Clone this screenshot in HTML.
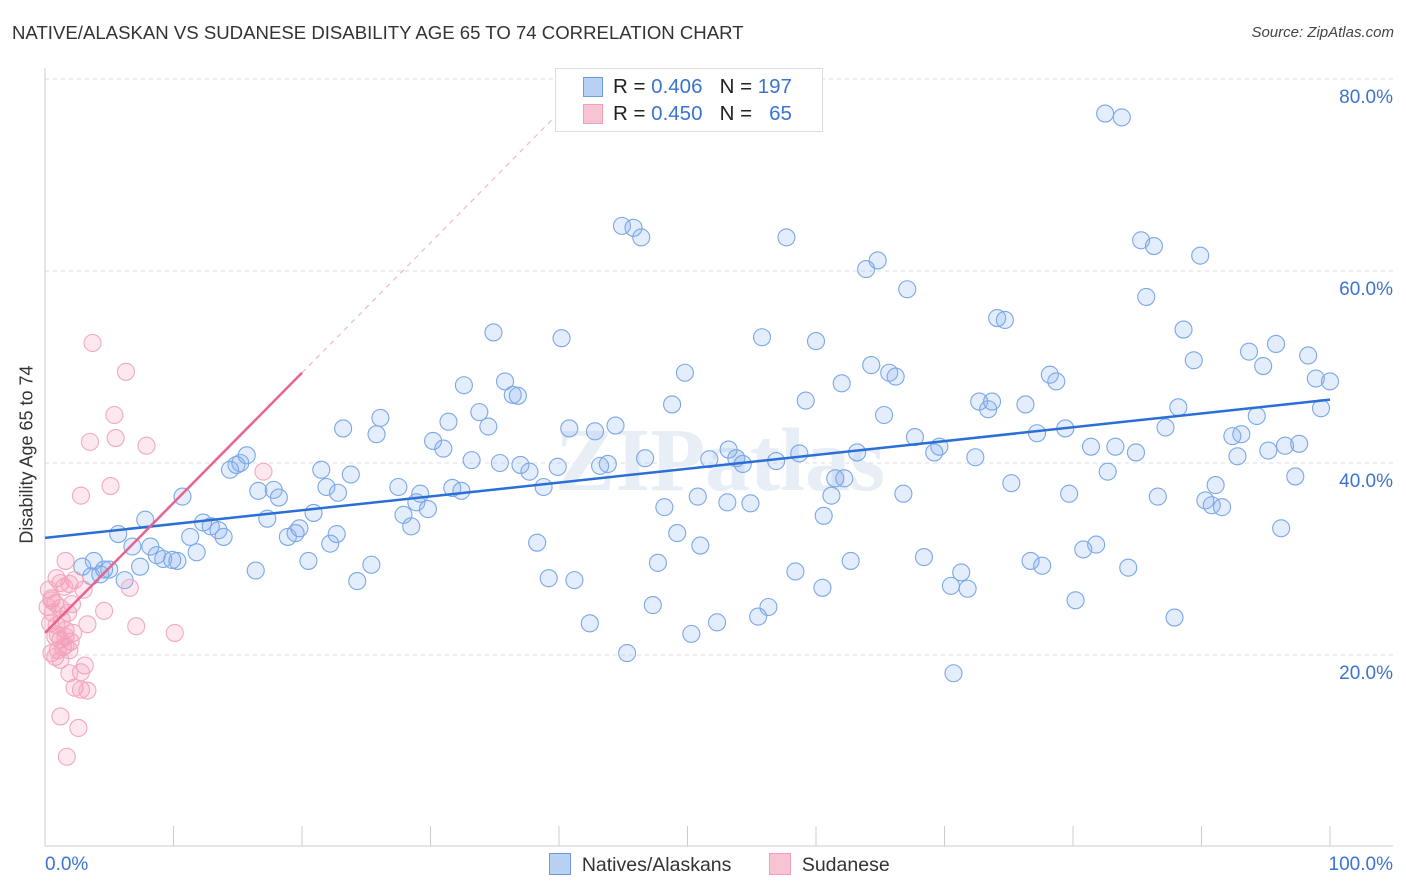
<!DOCTYPE html>
<html><head><meta charset="utf-8"><style>
body{margin:0;background:#fff;font-family:"Liberation Sans",sans-serif;}
#c{position:relative;width:1406px;height:892px;overflow:hidden}
.t{position:absolute;white-space:nowrap}
</style></head><body><div id="c">
<div class="t" style="left:12px;top:22px;font-size:18.6px;color:#333">NATIVE/ALASKAN VS SUDANESE DISABILITY AGE 65 TO 74 CORRELATION CHART</div>
<div class="t" style="right:12px;top:24px;font-size:15px;color:#444;font-style:italic">Source: ZipAtlas.com</div>
<div class="t" style="left:-73px;top:444px;width:200px;text-align:center;font-size:18px;color:#333;transform:rotate(-90deg)">Disability Age 65 to 74</div>
<svg id="s" width="1406" height="892" style="position:absolute;left:0;top:0"></svg>
<div style="position:absolute;left:555px;top:68px;width:266px;height:62px;border:1px solid #ddd;background:#fff;font-size:20.5px;color:#222">
<div style="position:absolute;left:27px;top:8px;width:18px;height:18px;background:#b8d0f4;border:1px solid #6a9ee0"></div>
<div class="t" style="left:57px;top:6px">R = <span style="color:#3b73d1">0.406</span>&nbsp;&nbsp;&nbsp;N = <span style="color:#3b73d1">197</span></div>
<div style="position:absolute;left:27px;top:35px;width:18px;height:18px;background:#f8c4d4;border:1px solid #f0a0b8"></div>
<div class="t" style="left:57px;top:33px">R = <span style="color:#3b73d1">0.450</span>&nbsp;&nbsp;&nbsp;N = &nbsp;&nbsp;<span style="color:#3b73d1">65</span></div>
</div>
<div style="position:absolute;left:549px;top:853px;font-size:19.5px;color:#333">
<div style="position:absolute;left:0;top:0;white-space:nowrap"><span style="display:inline-block;width:20px;height:20px;background:#b8d0f4;border:1px solid #6a9ee0;vertical-align:-4px"></span>&nbsp; Natives/Alaskans</div>
<div style="position:absolute;left:220px;top:0;white-space:nowrap"><span style="display:inline-block;width:20px;height:20px;background:#f8c4d4;border:1px solid #f0a0b8;vertical-align:-4px"></span>&nbsp; Sudanese</div>
</div>
</div>
<script>
const blueX=[82.5,83.8,44.9,45.8,46.4,57.7,85.3,86.3,89.9,64.8,63.9,67.1,85.7,74.1,74.7,88.6,34.9,40.2,55.8,60.0,93.7,95.8,89.4,98.3,94.8,64.3,65.7,66.2,49.8,78.2,78.7,62.0,35.8,32.6,36.4,36.8,98.9,100,59.2,72.7,73.4,73.7,76.3,48.8,33.8,26.1,65.3,88.2,99.3,94.3,31.4,23.2,25.8,34.5,40.8,42.8,44.4,87.2,77.2,79.4,67.7,92.4,93.1,30.2,31.0,81.4,83.3,84.9,97.6,96.5,69.6,69.2,53.2,53.8,54.3,51.7,58.7,56.9,63.2,72.4,92.8,95.2,33.2,35.4,37.0,37.7,38.8,39.9,43.2,43.8,46.7,14.9,15.2,15.7,14.4,21.5,23.8,21.9,16.6,17.8,18.2,10.7,22.8,27.5,28.9,29.2,31.7,32.4,61.5,62.2,82.7,91.1,97.3,75.2,79.7,66.8,61.2,50.8,53.1,54.9,48.2,86.6,90.3,90.8,91.6,27.9,29.8,28.5,20.9,17.3,7.8,12.3,12.9,13.5,11.3,13.9,18.9,19.5,19.8,22.7,22.2,5.7,6.8,8.2,8.7,9.2,9.9,10.3,11.8,7.4,60.6,49.2,51.0,38.3,96.2,80.8,81.8,20.5,25.4,24.3,16.4,3.8,2.9,3.6,4.3,5.0,4.6,6.2,47.7,62.7,68.4,76.7,77.6,84.3,58.4,71.3,39.2,41.2,60.5,70.5,71.8,80.2,47.3,56.3,55.5,42.4,52.3,50.3,87.9,45.3,70.7];
const blueY=[76.4,76.0,64.7,64.5,63.5,63.5,63.2,62.6,61.6,61.1,60.2,58.1,57.3,55.1,54.9,53.9,53.6,53.0,53.1,52.7,51.6,52.4,50.7,51.2,50.1,50.2,49.4,49.0,49.4,49.2,48.5,48.3,48.5,48.1,47.1,47.0,48.8,48.5,46.5,46.4,45.6,46.4,46.1,46.1,45.3,44.7,45.0,45.8,45.7,44.9,44.3,43.6,43.0,43.8,43.6,43.3,43.9,43.7,43.1,43.6,42.7,42.8,43.0,42.3,41.5,41.7,41.7,41.1,42.0,41.8,41.7,41.1,41.4,40.5,39.9,40.4,41.0,40.2,41.1,40.6,40.7,41.3,40.3,40.0,39.8,39.1,37.5,39.6,39.7,39.9,40.5,39.8,40.0,40.8,39.3,39.3,38.8,37.5,37.1,37.2,36.4,36.5,36.9,37.5,35.9,36.8,37.4,37.1,38.4,38.4,39.1,37.7,38.6,37.9,36.8,36.8,36.6,36.5,35.9,35.8,35.4,36.5,36.1,35.6,35.4,34.6,35.2,33.4,34.8,34.2,34.1,33.8,33.4,33.0,32.3,32.3,32.3,32.7,33.2,32.6,31.6,32.6,31.3,31.3,30.4,30.0,29.9,29.8,30.7,29.2,34.5,32.7,31.4,31.7,33.2,31.0,31.5,29.8,29.4,27.7,28.8,29.8,29.2,28.2,28.4,28.9,28.9,27.8,29.6,29.8,30.2,29.8,29.3,29.1,28.7,28.6,28.0,27.8,27.0,27.2,26.9,25.7,25.2,25.0,24.0,23.3,23.4,22.2,23.9,20.2,18.1];
const pinkX=[3.7,6.3,5.4,3.5,5.5,7.9,5.1,2.8,17.0,1.6,0.9,2.3,1.2,1.9,1.5,3.0,6.6,0.5,0.8,0.2,2.1,1.2,0.6,1.8,4.6,1.3,0.4,0.9,3.3,7.1,10.1,1.6,2.2,0.8,1.2,1.6,2.0,1.4,1.0,0.5,1.9,0.8,1.2,3.1,2.8,1.9,2.3,2.8,3.3,1.2,2.6,1.7,0.3,0.5,1.0,1.6];
const pinkY=[52.5,49.5,45.0,42.2,42.6,41.8,37.6,36.6,39.1,29.8,28.0,27.8,27.5,27.4,27.1,26.8,27.0,25.9,25.4,25.0,25.3,24.9,24.4,24.4,24.6,23.7,23.3,23.1,23.2,23.0,22.3,22.6,22.3,21.9,21.6,21.9,21.4,20.8,20.5,20.2,20.5,19.8,19.5,18.9,18.2,18.1,16.6,16.4,16.3,13.6,12.4,9.4,26.8,25.7,22.1,21.0];
const blueTrend=[32.2,46.6];
const pinkTrend=[22.3,49.4];
const yTicks=[20,40,60,80];
const yTickLabels=["20.0%","40.0%","60.0%","80.0%"];
const xTicks=[0,10,20,30,40,50,60,70,80,90,100];

const NS="http://www.w3.org/2000/svg";
const svg=document.getElementById('s');
const X=v=>45+v*12.85, Y=v=>847-v*9.6;
function mk(t,a,p){const e=document.createElementNS(NS,t);for(const k in a)e.setAttribute(k,a[k]);(p||svg).appendChild(e);return e;}
yTicks.forEach((t,i)=>{
 const g=mk('line',{x1:45,x2:1393,y1:Y(t),y2:Y(t),stroke:'#ddd','stroke-dasharray':'4,4'});
 
 
 const tx=mk('text',{x:1393,y:Y(t)+24,'text-anchor':'end','font-size':19,fill:'#3b73d1','font-family':'Liberation Sans, sans-serif'});
 tx.textContent=yTickLabels[i];
 
 
});
let ax=mk('line',{x1:45,x2:45,y1:68,y2:846,stroke:'#ccc'});


let bx=mk('line',{x1:45,x2:1393,y1:846,y2:846,stroke:'#ccc'});


xTicks.forEach(t=>{const l=mk('line',{x1:X(t),x2:X(t),y1:826,y2:846,stroke:'#ccc'});
 
 });
[['0.0%',45,'start'],['100.0%',1393,'end']].forEach(a=>{const t=mk('text',{x:a[1],y:870,'text-anchor':a[2],'font-size':19,fill:'#3b73d1','font-family':'Liberation Sans, sans-serif'});t.textContent=a[0];
 
 });
const wm=mk('text',{x:720,y:490,'text-anchor':'middle','font-size':90,fill:'#e8eef6','font-family':'Liberation Serif, serif','font-weight':'bold'});
wm.textContent='ZIPatlas';


blueX.forEach((v,i)=>{const c=mk('circle',{cx:X(v),cy:Y(blueY[i]),r:8.5,fill:'rgba(130,175,240,0.22)',stroke:'#7aa8e6','stroke-width':1.1});
 
 });
pinkX.forEach((v,i)=>{const c=mk('circle',{cx:X(v),cy:Y(pinkY[i]),r:8.5,fill:'rgba(245,150,180,0.22)',stroke:'#f2a8be','stroke-width':1.1});
 
 });
let bl=mk('line',{x1:X(0),y1:Y(blueTrend[0]),x2:X(100),y2:Y(blueTrend[1]),stroke:'#2a6fd6','stroke-width':2.5});


const ps=(pinkTrend[1]-pinkTrend[0])/20;
let pl=mk('line',{x1:X(0),y1:Y(pinkTrend[0]),x2:X(20),y2:Y(pinkTrend[1]),stroke:'#e8648f','stroke-width':2.5});


const xe=(78-pinkTrend[0])/ps;
let pd=mk('line',{x1:X(20),y1:Y(pinkTrend[1]),x2:X(xe),y2:Y(78),stroke:'#f0b8c8','stroke-width':1.2,'stroke-dasharray':'5,5'});


</script></body></html>
